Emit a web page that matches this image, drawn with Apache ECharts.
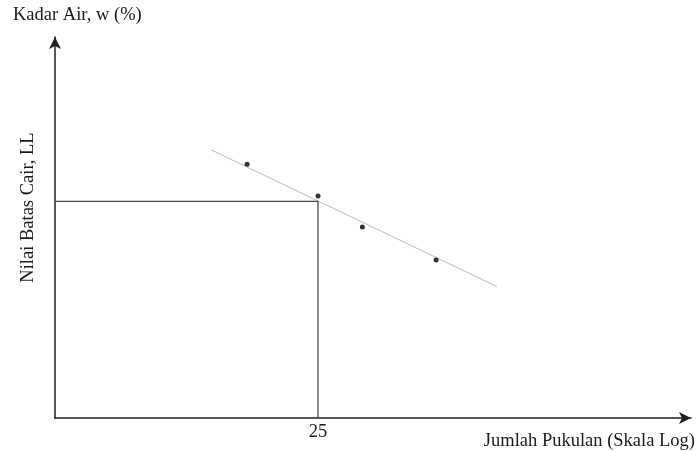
<!DOCTYPE html>
<html>
<head>
<meta charset="utf-8">
<script src="https://cdn.jsdelivr.net/npm/echarts@6/dist/echarts.min.js"></script>
<style>html,body{margin:0;padding:0;background:#fff}#c{width:699px;height:451px}</style>
</head>
<body>
<div id="c"></div>
<script>
// Data
const blowCounts = [16.2, 25, 32.8, 51.5];          // Jumlah pukulan (log scale)
const waterContent = [53.3, 46.6, 40.1, 33.2];      // Kadar air, w (%)
const fitLineX = [13.0, 74.7];
const fitLineY = [56.3, 27.6];
const liquidLimit = 45.5;                           // LL at 25 blows
const refBlows = 25;
const xTickLabels = [25];
const xRange = [5, 245];
const yRange = [0, 80];

const font = 'Liberation Serif, Times New Roman, serif';
const txt = '#1a1a1a';

const chart = echarts.init(document.getElementById('c'));
chart.setOption({
  animation: false,
  title: {
    text: 'Kadar Air, w (%)',
    left: 13, top: 6, padding: 0,
    textStyle: { fontFamily: font, fontSize: 18.5, fontWeight: 'normal', color: txt }
  },
  grid: { left: 55, right: 8, top: 37, bottom: 31 },
  xAxis: {
    type: 'log',
    min: xRange[0], max: xRange[1],
    name: 'Jumlah Pukulan (Skala Log)',
    nameLocation: 'end',
    nameGap: 4,
    nameTextStyle: { fontFamily: font, fontSize: 18.5, color: txt, align: 'right', verticalAlign: 'top', padding: [14, 0, 0, 0] },
    axisLine: { show: true, lineStyle: { color: '#222', width: 1.5 }, symbol: ['none', 'arrow'], symbolSize: [9, 12] },
    axisTick: { show: false },
    minorTick: { show: false },
    splitLine: { show: false },
    axisLabel: {
      customValues: xTickLabels,
      margin: 5,
      fontFamily: font, fontSize: 18.5, color: txt,
      formatter: v => String(Math.round(v))
    }
  },
  yAxis: {
    type: 'value',
    min: yRange[0], max: yRange[1],
    name: 'Nilai Batas Cair, LL',
    nameLocation: 'middle',
    nameGap: 17,
    nameRotate: 90,
    nameTextStyle: { fontFamily: font, fontSize: 18.5, color: txt, padding: [0, 0, 0, 40] },
    axisLine: { show: true, lineStyle: { color: '#222', width: 1.5 }, symbol: ['none', 'arrow'], symbolSize: [9, 12] },
    axisTick: { show: false },
    axisLabel: { show: false },
    splitLine: { show: false }
  },
  series: [
    {
      type: 'line',
      data: fitLineX.map((x, i) => [x, fitLineY[i]]),
      symbol: 'none',
      lineStyle: { color: '#bdbdbd', width: 1 },
      silent: true, z: 2
    },
    {
      type: 'line',
      data: [[xRange[0], liquidLimit], [refBlows, liquidLimit], [refBlows, yRange[0]]],
      symbol: 'none',
      lineStyle: { color: '#4a4a4a', width: 1.3 },
      silent: true, z: 3
    },
    {
      type: 'scatter',
      data: blowCounts.map((x, i) => [x, waterContent[i]]),
      symbol: 'circle',
      symbolSize: 5,
      itemStyle: { color: '#000' },
      z: 4
    }
  ]
});
</script>
</body>
</html>
